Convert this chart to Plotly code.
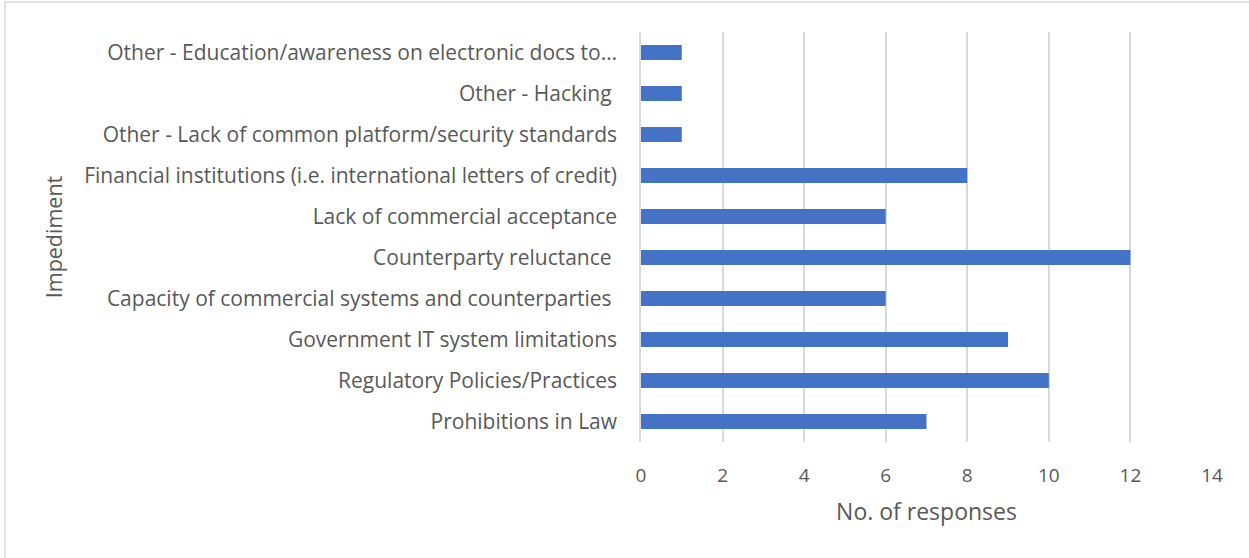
import plotly.graph_objects as go

categories = [
    "Prohibitions in Law",
    "Regulatory Policies/Practices",
    "Government IT system limitations",
    "Capacity of commercial systems and counterparties ",
    "Counterparty reluctance ",
    "Lack of commercial acceptance",
    "Financial institutions (i.e. international letters of credit)",
    "Other - Lack of common platform/security standards",
    "Other - Hacking ",
    "Other - Education/awareness on electronic docs to…",
]
values = [7, 10, 9, 6, 12, 6, 8, 1, 1, 1]
x_ticks = [0, 2, 4, 6, 8, 10, 12, 14]

W, H = 1249, 558
L, R, T, B = 641, 37, 32, 116
pw, ph = W - L - R, H - T - B

font = "Open Sans"
fig = go.Figure(go.Bar(
    x=values, y=categories, orientation="h",
    marker=dict(color="#4472C4", line=dict(width=0)),
    width=0.37,
))

fig.update_layout(
    width=W, height=H,
    margin=dict(l=L, r=R, t=T, b=B, pad=0),
    paper_bgcolor="white", plot_bgcolor="white",
    showlegend=False,
    font=dict(family=font, color="#595959"),
    xaxis=dict(
        range=[0, 14], tickvals=x_ticks, showgrid=True, gridcolor="#D9D9D9",
        gridwidth=1.5, zeroline=False, showline=False,
        tickfont=dict(size=19, color="#595959"),
        ticks="", ticklabelstandoff=20,
        title=dict(text="No. of responses", font=dict(size=23, color="#595959"), standoff=16),
    ),
    yaxis=dict(
        range=[-0.5, 9.5], showgrid=False, zeroline=False,
        showline=True, linecolor="#D9D9D9", linewidth=1.5,
        tickfont=dict(size=21, color="#595959"), ticks="",
        ticklabelstandoff=18,
        title=dict(text="Impediment", font=dict(size=21.5, color="#595959"), standoff=16),
    ),
    shapes=[dict(
        type="rect", xref="paper", yref="paper",
        x0=(5 - L) / pw, x1=(W + 10 - L) / pw,
        y0=-(H + 10 - T - ph) / ph, y1=1 + (T - 2) / ph,
        line=dict(color="#D9D9D9", width=1.5), fillcolor="rgba(0,0,0,0)", layer="below",
    )],
)

fig.write_html("out.html", config={"displayModeBar": False},
               post_script="document.body.style.margin='0';document.body.style.overflow='hidden';")
